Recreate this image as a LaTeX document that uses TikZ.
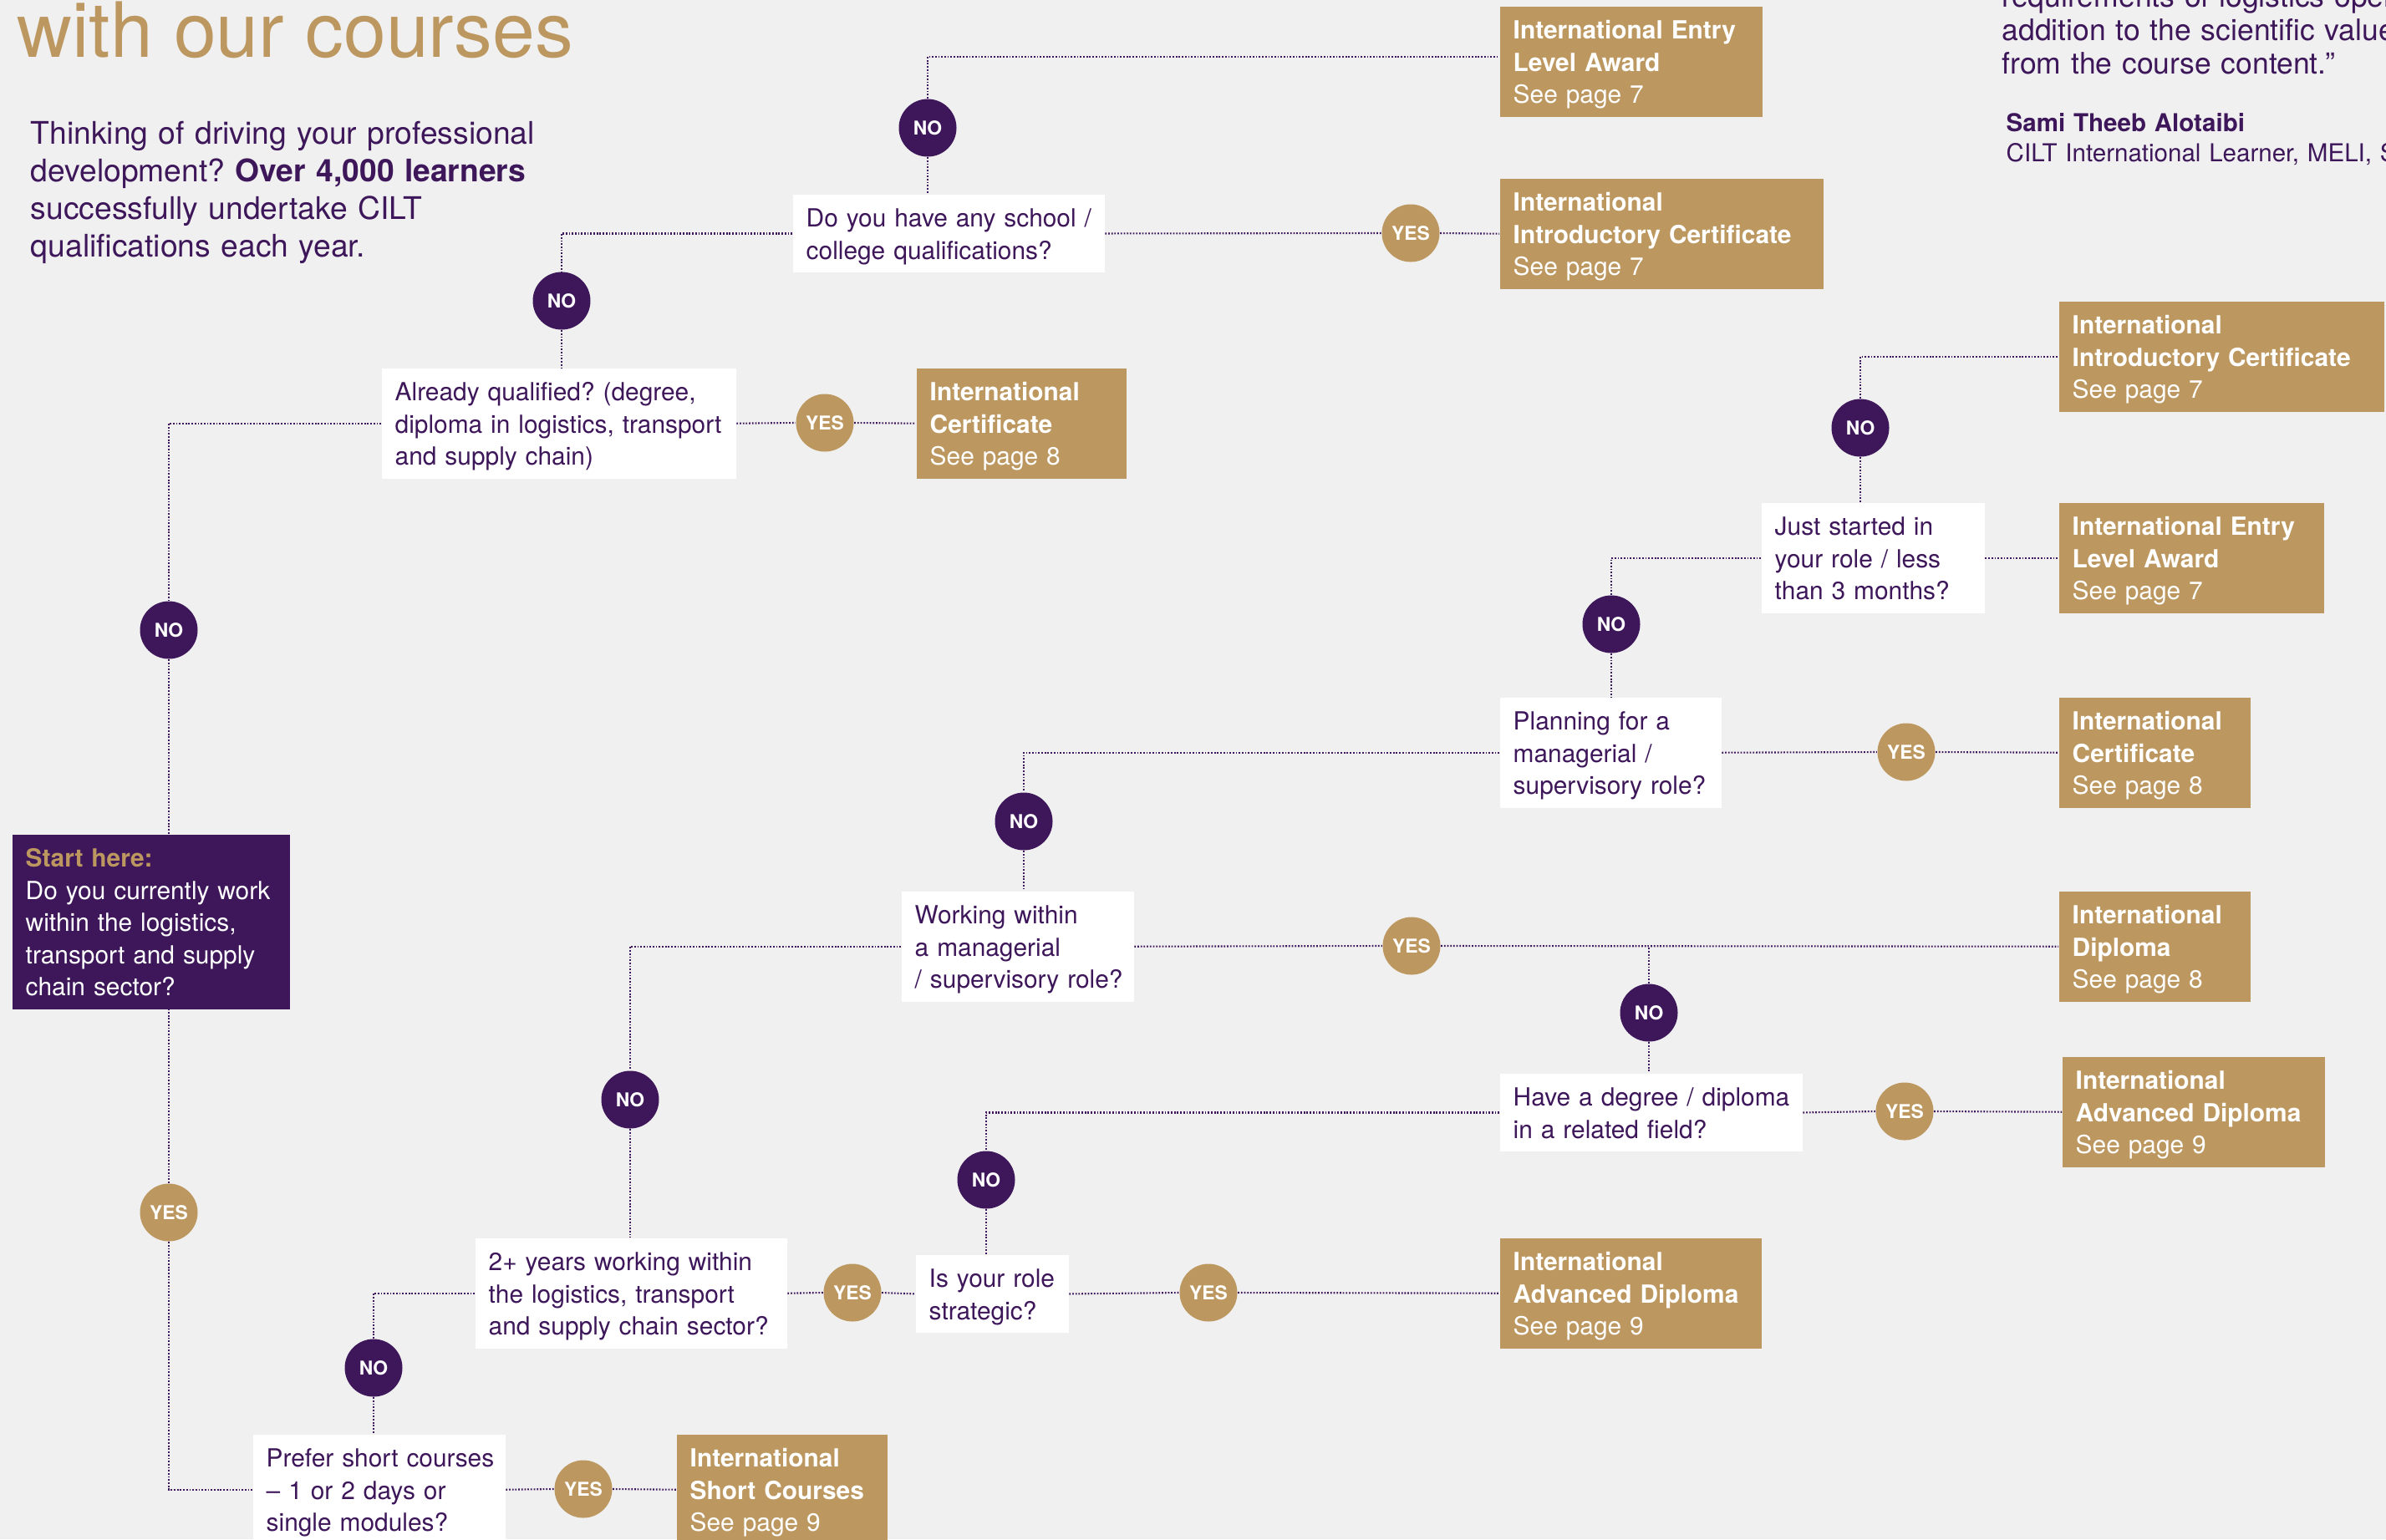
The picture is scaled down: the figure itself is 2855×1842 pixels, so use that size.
\documentclass[tikz,border=0pt]{standalone}
\usepackage{fontspec}
\setmainfont{TeX Gyre Heros}
\frenchspacing
\definecolor{gold}{RGB}{188,152,96}
\definecolor{purp}{RGB}{61,23,90}
\definecolor{bgc}{RGB}{240,240,240}
\tikzset{
  box/.style={anchor=north west, inner xsep=1.6mm, inner ysep=0pt, align=left,
    font=\frenchspacing\fontsize{8.5}{10.95}\selectfont,
    execute at begin node={\noindent\rule{0pt}{3.9mm}},
    execute at end node={\rule[-1.6mm]{0pt}{1.6mm}}},
  qbox/.style={box, fill=white, text=purp},
  cbox/.style={box, fill=gold, text=white},
  sbox/.style={box, fill=purp, text=white},
  circ/.style={circle, minimum size=6.9mm, inner sep=0pt, text=white,
    font=\bfseries\fontsize{6.5}{7}\selectfont},
  nocirc/.style={circ, fill=purp},
  yescirc/.style={circ, fill=gold},
  conn/.style={draw=purp, line width=0.6pt, dash pattern=on 0.5pt off 0.55pt},
}
\begin{document}
\begin{tikzpicture}[x=0.1mm,y=-0.1mm]
\path[use as bounding box] (0,0) rectangle (2855,1842);
\clip (0,0) rectangle (2855,1842);
\fill[bgc] (0,0) rectangle (2855,1842);

% free texts
\node[anchor=base west, inner sep=0pt, text=gold, font=\fontsize{26}{30}\selectfont] (title) at (20,68) {with our courses};
\node[anchor=north west, inner sep=0pt, align=left, text width=80mm, text=purp,
  font=\frenchspacing\fontsize{10.6}{12.8}\selectfont] (intro) at (36,132)
  {\noindent\rule{0pt}{4mm}Thinking of driving your professional\\development? \textbf{Over 4,000 learners}\\successfully undertake CILT\\qualifications each year.};
\node[anchor=north west, inner sep=0pt, align=left, text width=60mm, text=purp,
  font=\frenchspacing\fontsize{10.1}{11.38}\selectfont] (quote) at (2395,-32)
  {\noindent\rule{0pt}{4mm}\mbox{requirements of logistics oper}\\\mbox{addition to the scientific value}\\\mbox{from the course content.”}};
\node[anchor=north west, inner sep=0pt, align=left, text width=60mm, text=purp,
  font=\frenchspacing\fontsize{8.4}{10.24}\selectfont] (author) at (2400,127)
  {\noindent\rule{0pt}{3mm}\textbf{Sami Theeb Alotaibi}\\\mbox{CILT International Learner, MELI, S}};

% start box
\node[sbox, text width=30.0mm] (S) at (14,998)
  {\mbox{\color{gold}\bfseries Start here:}\\\mbox{Do you currently work}\\\mbox{within the logistics,}\\\mbox{transport and supply}\\\mbox{chain sector?}};

% question boxes
\node[qbox, text width=34.1mm] (Q1) at (948,232) {\mbox{Do you have any school /}\\\mbox{college qualifications?}};
\node[qbox, text width=39.2mm] (Q2) at (456,440) {\mbox{Already qualified? (degree,}\\\mbox{diploma in logistics, transport}\\\mbox{and supply chain)}};
\node[qbox, text width=23.5mm] (Q3) at (2107,601) {\mbox{Just started in}\\\mbox{your role / less}\\\mbox{than 3 months?}};
\node[qbox, text width=23.3mm] (Q4) at (1794,834) {\mbox{Planning for a}\\\mbox{managerial /}\\\mbox{supervisory role?}};
\node[qbox, text width=24.6mm] (Q5) at (1078,1066) {\mbox{Working within}\\\mbox{a managerial}\\\mbox{/ supervisory role?}};
\node[qbox, text width=33.0mm] (Q6) at (1794,1284) {\mbox{Have a degree / diploma}\\\mbox{in a related field?}};
\node[qbox, text width=15.1mm] (Q7) at (1095,1501) {\mbox{Is your role}\\\mbox{strategic?}};
\node[qbox, text width=34.1mm] (Q8) at (568,1481) {\mbox{2+ years working within}\\\mbox{the logistics, transport}\\\mbox{and supply chain sector?}};
\node[qbox, text width=27.0mm] (Q9) at (302,1716) {\mbox{Prefer short courses}\\\mbox{– 1 or 2 days or}\\\mbox{single modules?}};

% course boxes
\node[cbox, text width=28.2mm] (A) at (1794,7) {\mbox{\bfseries International Entry}\\\mbox{\bfseries Level Award}\\See page 7};
\node[cbox, text width=35.5mm] (B) at (1794,213) {\mbox{\bfseries International}\\\mbox{\bfseries Introductory Certificate}\\See page 7};
\node[cbox, text width=21.9mm] (C) at (1096,440) {\mbox{\bfseries International}\\\mbox{\bfseries Certificate}\\See page 8};
\node[cbox, text width=35.7mm] (D) at (2463,360) {\mbox{\bfseries International}\\\mbox{\bfseries Introductory Certificate}\\See page 7};
\node[cbox, text width=28.5mm] (E) at (2463,601) {\mbox{\bfseries International Entry}\\\mbox{\bfseries Level Award}\\See page 7};
\node[cbox, text width=19.7mm] (F) at (2463,834) {\mbox{\bfseries International}\\\mbox{\bfseries Certificate}\\See page 8};
\node[cbox, text width=19.7mm] (G) at (2463,1066) {\mbox{\bfseries International}\\\mbox{\bfseries Diploma}\\See page 8};
\node[cbox, text width=28.2mm] (H) at (2467,1264) {\mbox{\bfseries International}\\\mbox{\bfseries Advanced Diploma}\\See page 9};
\node[cbox, text width=28.1mm] (I) at (1794,1481) {\mbox{\bfseries International}\\\mbox{\bfseries Advanced Diploma}\\See page 9};
\node[cbox, text width=22.0mm] (J) at (809,1716) {\mbox{\bfseries International}\\\mbox{\bfseries Short Courses}\\See page 9};

% circles
\node[nocirc] (N1) at (1110,153) {NO};
\node[yescirc] (Y1) at (1688,279) {YES};
\node[nocirc] (N2) at (672,360) {NO};
\node[yescirc] (Y2) at (987,506) {YES};
\node[nocirc] (N3) at (202,754) {NO};
\node[yescirc] (Y3) at (202,1451) {YES};
\node[nocirc] (N4) at (2226,512) {NO};
\node[nocirc] (N5) at (1928,747) {NO};
\node[yescirc] (Y4) at (2281,900) {YES};
\node[nocirc] (N6) at (1225,983) {NO};
\node[yescirc] (Y5) at (1689,1132) {YES};
\node[nocirc] (N7) at (1973,1212) {NO};
\node[yescirc] (Y6) at (2279,1330) {YES};
\node[nocirc] (N8) at (1180,1412) {NO};
\node[yescirc] (Y7) at (1446,1547) {YES};
\node[yescirc] (Y8) at (1020,1547) {YES};
\node[nocirc] (N9) at (754,1316) {NO};
\node[nocirc] (N10) at (447,1637) {NO};
\node[yescirc] (Y9) at (698,1782) {YES};

% connectors
\draw[conn] (N1.north) |- ([yshift=0.6mm]A.west);
\draw[conn] (N1.south) -- (N1.south |- Q1.north);
\draw[conn] (Q1.east) -- (Y1.west);
\draw[conn] (Y1.east) -- (B.west);
\draw[conn] (Q1.west) -| (N2.north);
\draw[conn] (N2.south) -- (N2.south |- Q2.north);
\draw[conn] (Q2.east) -- (Y2.west);
\draw[conn] (Y2.east) -- (C.west);
\draw[conn] (Q2.west) -| (N3.north);
\draw[conn] (N3.south) -- (N3.south |- S.north);
\draw[conn] (Y3.north) -- (Y3.north |- S.south);
\draw[conn] (Y3.south) |- (Q9.west);
\draw[conn] (N4.north) |- (D.west);
\draw[conn] (N4.south) -- (N4.south |- Q3.north);
\draw[conn] (Q3.east) -- (E.west);
\draw[conn] (Q3.west) -| (N5.north);
\draw[conn] (N5.south) -- (N5.south |- Q4.north);
\draw[conn] (Q4.east) -- (Y4.west);
\draw[conn] (Y4.east) -- (F.west);
\draw[conn] (Q4.west) -| (N6.north);
\draw[conn] (N6.south) -- (N6.south |- Q5.north);
\draw[conn] (Q5.east) -- (Y5.west);
\draw[conn] (Y5.east) -- (G.west);
\draw[conn] (N7.north) -- (N7.north |- G.west);
\draw[conn] (N7.south) -- (N7.south |- Q6.north);
\draw[conn] (Q6.east) -- (Y6.west);
\draw[conn] (Y6.east) -- (H.west);
\draw[conn] (Q6.west) -| (N8.north);
\draw[conn] (N8.south) -- (N8.south |- Q7.north);
\draw[conn] (Q7.east) -- (Y7.west);
\draw[conn] (Y7.east) -- (I.west);
\draw[conn] (Q8.east) -- (Y8.west);
\draw[conn] (Y8.east) -- (Q7.west);
\draw[conn] (Q5.west) -| (N9.north);
\draw[conn] (N9.south) -- (N9.south |- Q8.north);
\draw[conn] (Q8.west) -| (N10.north);
\draw[conn] (N10.south) -- (N10.south |- Q9.north);
\draw[conn] (Q9.east) -- (Y9.west);
\draw[conn] (Y9.east) -- (J.west);
\end{tikzpicture}
\end{document}
